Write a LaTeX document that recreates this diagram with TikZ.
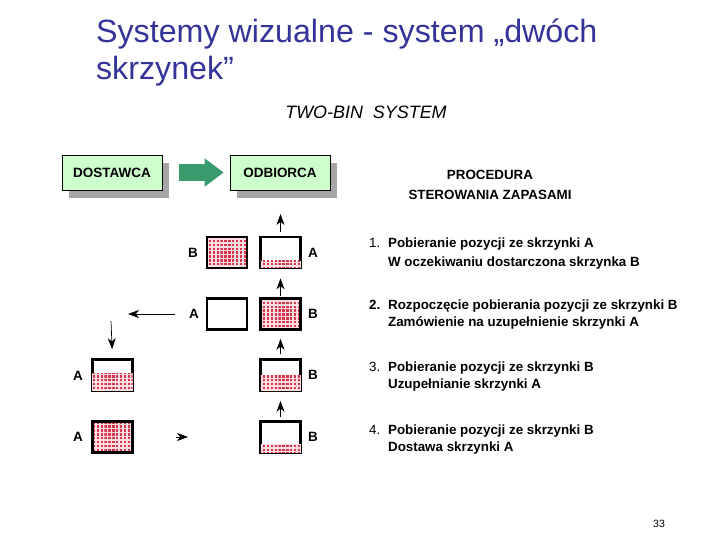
\documentclass[tikz,border=0pt]{standalone}
\usepackage{fontspec}
\setmainfont{Liberation Sans}
\usetikzlibrary{arrows.meta, calc, shadows, patterns}

\definecolor{titleblue}{RGB}{51,51,153}
\definecolor{boxgreen}{RGB}{204,255,204}
\definecolor{arrowgreen}{RGB}{58,155,110}
\definecolor{binred}{RGB}{212,55,75}
\definecolor{binpink}{RGB}{252,222,226}

% red grid of the filled bins
\pgfdeclarepatternformonly{bingrid}{\pgfpoint{-0.1pt}{-0.1pt}}{\pgfpoint{3.5pt}{3.5pt}}{\pgfpoint{3.3pt}{3.3pt}}
{\pgfpathrectangle{\pgfpointorigin}{\pgfpoint{2.1pt}{2.1pt}}\pgfusepath{fill}}

\tikzset{
  party/.style={draw, fill=boxgreen, line width=0.6pt, minimum width=3cm, minimum height=1.05cm,
    font=\fontsize{11.5}{13}\selectfont\bfseries,
    drop shadow={shadow xshift=0.21cm, shadow yshift=-0.24cm, fill=gray!70, opacity=1}},
  bin/.style={draw, line width=2.3pt, minimum width=1.2cm, minimum height=0.93cm, inner sep=0pt},
  stock/.style={preaction={fill=binpink}, pattern=bingrid, pattern color=binred},
  tag/.style={font=\fontsize{11.5}{13}\selectfont\bfseries},
  stepline/.style={anchor=base west, font=\fontsize{11.4}{14}\selectfont\bfseries},
  flow/.style={-{Stealth[length=0.33cm, width=0.24cm, inset=0.1cm]}, line width=0.6pt}
}

\begin{document}
\begin{tikzpicture}[x=0.03cm, y=-0.03cm]
    \useasboundingbox (0,0) rectangle (720,540);

    % title
    \node[anchor=base west, text=titleblue, font=\fontsize{27.5}{32}\selectfont] (title1) at (92,43) {Systemy wizualne - system „dwóch};
    \node[anchor=base west, text=titleblue, font=\fontsize{27.5}{32}\selectfont] (title2) at (92,80) {skrzynek”};
    \node[anchor=base, font=\fontsize{15.3}{18}\selectfont\itshape] (twobin) at (366,119) {TWO-BIN~~SYSTEM};

    % supplier and customer
    \node[party] (dost) at (112,172.5) {DOSTAWCA};
    \node[party] (odb) at (280,172.5) {ODBIORCA};
    \draw[arrowgreen, line width=0.51cm, -{Triangle[length=0.57cm, width=0.81cm]},
          shorten <=0.5cm, shorten >=0.18cm] (dost.east) -- (odb.west);

    % bins
    \node[bin, stock] (b1) at (227,252.5) {};
    \node[bin] (a1) at (280.5,252.5) {};
    \node[bin] (a2) at (227,314) {};
    \node[bin, stock] (b2) at (280.5,314) {};
    \node[bin] (a3) at (112.5,375) {};
    \node[bin] (b3) at (280.5,375) {};
    \node[bin, stock] (a4) at (112.5,437) {};
    \node[bin] (b4) at (280.5,437) {};

    % partly filled bins
    \fill[stock] ([shift={(1.15pt,1.15pt)}]a1.south west) rectangle ([xshift=-1.15pt]$(a1.south east)!0.25!(a1.north east)$);
    \fill[stock] ([shift={(1.15pt,1.15pt)}]a3.south west) rectangle ([xshift=-1.15pt]$(a3.south east)!0.55!(a3.north east)$);
    \fill[stock] ([shift={(1.15pt,1.15pt)}]b3.south west) rectangle ([xshift=-1.15pt]$(b3.south east)!0.5!(b3.north east)$);
    \fill[stock] ([shift={(1.15pt,1.15pt)}]b4.south west) rectangle ([xshift=-1.15pt]$(b4.south east)!0.3!(b4.north east)$);

    % bin labels
    \node[tag] (lb1) at (193,253) {B};
    \node[tag] (la1) at (313,253) {A};
    \node[tag] (la2) at (194,314) {A};
    \node[tag] (lb2) at (313,314) {B};
    \node[tag] (la3) at (78,376) {A};
    \node[tag] (lb3) at (313,375) {B};
    \node[tag] (la4) at (78,437) {A};
    \node[tag] (lb4) at (313,437) {B};

    % arrows
    \coordinate (use) at (280.5,214);
    \coordinate (order) at (128,314);
    \coordinate (deliv) at (111,321);
    \coordinate (back1) at (176,437);
    \coordinate (back2) at (188,437);
    \draw[flow, shorten <=0.12cm] (a1.north) -- (use);
    \draw[flow, shorten <=0.03cm, shorten >=0.27cm] (b2.north) -- (a1.south);
    \draw[flow, shorten <=0.12cm, shorten >=0.24cm] (b3.north) -- (b2.south);
    \draw[flow, shorten <=0.09cm, shorten >=0.27cm] (b4.north) -- (b3.south);
    \draw[flow, shorten <=0.3cm] (la2.west) -- (order);
    \draw[flow, shorten >=0.27cm] (deliv) -- (a3.north);
    \draw[flow] (back1) -- (back2);

    % procedure
    \node[anchor=base, font=\fontsize{11.4}{14}\selectfont\bfseries] (proc1) at (490,180) {PROCEDURA};
    \node[anchor=base, font=\fontsize{11.4}{14}\selectfont\bfseries] (proc2) at (490,200) {STEROWANIA ZAPASAMI};

    \node[stepline, font=\fontsize{11.4}{14}\selectfont] (n1) at (365,248) {1.};
    \node[stepline] (s1a) at (384,248) {Pobieranie pozycji ze skrzynki A};
    \node[stepline] (s1b) at (384,267) {W oczekiwaniu dostarczona skrzynka B};
    \node[stepline] (n2) at (365,310) {2.};
    \node[stepline] (s2a) at (384,310) {Rozpoczęcie pobierania pozycji ze skrzynki B};
    \node[stepline] (s2b) at (384,327) {Zamówienie na uzupełnienie skrzynki A};
    \node[stepline, font=\fontsize{11.4}{14}\selectfont] (n3) at (365,372) {3.};
    \node[stepline] (s3a) at (384,372) {Pobieranie pozycji ze skrzynki B};
    \node[stepline] (s3b) at (384,389) {Uzupełnianie skrzynki A};
    \node[stepline, font=\fontsize{11.4}{14}\selectfont] (n4) at (365,434) {4.};
    \node[stepline] (s4a) at (384,434) {Pobieranie pozycji ze skrzynki B};
    \node[stepline] (s4b) at (384,451) {Dostawa skrzynki A};

    % page number
    \node[font=\fontsize{9}{10}\selectfont] (page) at (659,524) {33};
\end{tikzpicture}
\end{document}
